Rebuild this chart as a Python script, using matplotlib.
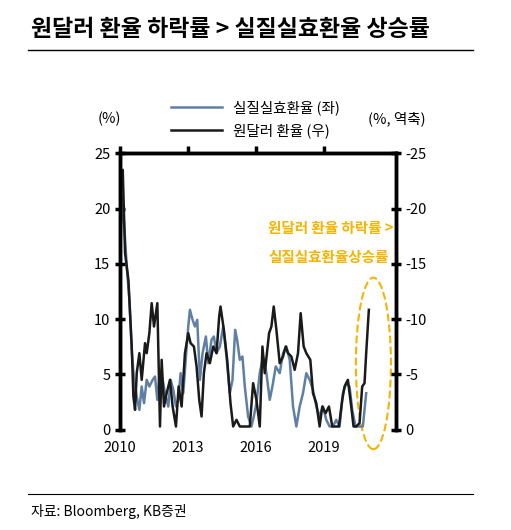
import matplotlib
matplotlib.use("Agg")
import matplotlib.pyplot as plt
from matplotlib.patches import Ellipse
import numpy as np
plt.rcParams['font.family'] = ['Noto Sans CJK KR', 'DejaVu Sans']

bx = [60,68,75,85,95,100,105,110,118,125,135,140,148,155,162,172,180,185,192,200,210,218,228,236,245,255,265,272,282,290,298,305,312,320,330,340,350,358,362,372,382,392,400,410,420,430,440,450,460,470,480,488,495,508,515,522,530,540,550,558,565,575,585,595,603,612,620,632,640,650,660,668,678,688,698,708,718,728,735,745,755,762,770,780,788,795,800,808]
by = [130,90,340,420,620,770,810,700,640,720,610,640,580,490,560,490,860,660,800,760,720,800,860,740,800,640,580,610,620,680,780,830,700,640,670,620,640,530,500,570,660,790,860,840,860,860,860,860,730,780,860,620,700,580,560,500,570,670,650,620,640,650,690,640,520,620,640,660,760,790,860,800,820,800,860,860,860,780,740,720,800,860,860,850,740,730,640,510]
ux = [60,66,72,80,88,95,102,110,118,125,132,140,148,158,165,172,180,188,195,205,212,220,228,235,242,250,258,265,270,278,285,292,300,308,318,325,335,342,350,360,370,380,390,398,406,412,420,428,435,445,455,462,470,480,490,500,510,518,528,540,550,560,570,580,590,600,610,620,630,640,650,660,670,680,690,700,710,720,730,740,750,758,768,780,790,800]
uy = [360,170,250,380,480,630,720,770,810,740,790,720,740,720,710,780,690,720,760,800,720,750,800,780,700,760,650,560,510,540,560,540,720,640,590,670,600,590,640,620,560,650,760,720,570,600,660,650,740,830,860,830,790,700,650,700,780,740,680,700,640,620,660,800,860,800,760,700,720,750,800,830,800,840,860,860,840,860,760,730,740,810,860,860,860,760]

def yr(z): return 2010 + (np.array(z)/3 - 20)/22.67
def val(z): return (870 - np.array(z))/33.2

krw_date, krw_val = yr(bx), -val(by)
reer_date, reer_val = yr(ux), val(uy)

fig = plt.figure(figsize=(5.11, 5.30), dpi=100)
fig.text(0.06, 0.945, "원달러 환율 하락률 > 실질실효환율 상승률", fontsize=16.5, fontweight='bold', va='center')
fig.add_artist(plt.Line2D([0.055, 0.925], [0.905, 0.905], color='black', lw=1))
fig.add_artist(plt.Line2D([0.055, 0.925], [0.068, 0.068], color='black', lw=0.8))
fig.text(0.06, 0.035, "자료: Bloomberg, KB증권", fontsize=10, va='center')

ax = fig.add_axes([0.235, 0.189, 0.54, 0.522])
ax.plot(reer_date, reer_val, color='#5f7fa3', lw=1.8, label='실질실효환율 (좌)')
ax.set_ylim(0, 25)
ax.set_xlim(2010, 2022.2)
ax.set_xticks([2010, 2013, 2016, 2019])
ax.set_yticks([0, 5, 10, 15, 20, 25])
ax2 = ax.twinx()
ax2.plot(krw_date, krw_val, color='#1a1a1a', lw=1.8, label='원달러 환율 (우)')
ax2.set_ylim(0, -25)
ax2.set_yticks([0, -5, -10, -15, -20, -25])
ax2.set_yticklabels(['0', '-5', '-10', '-15', '-20', '-25'])
for a in (ax, ax2):
    for s in a.spines.values():
        s.set_linewidth(2.5)
    a.spines['bottom'].set_visible(False)
    a.tick_params(width=2.5, length=7, direction='inout', labelsize=10.5)
ax.tick_params(axis='x', top=True, bottom=False, direction='out', length=5, pad=3)
ax.text(-0.08, 1.11, "(%)", transform=ax.transAxes, fontsize=10.5)
ax.text(0.9, 1.11, "(%, 역축)", transform=ax.transAxes, fontsize=10.5)
h1, l1 = ax.get_legend_handles_labels(); h2, l2 = ax2.get_legend_handles_labels()
fig.legend(h1 + h2, l1 + l2, loc='center', bbox_to_anchor=(0.5, 0.775), frameon=False, fontsize=10.5, handlelength=3.5, labelspacing=0.6)
ax.text(2019.3, 17.8, "원달러 환율 하락률 >", color='#f5b400', fontsize=10.5, fontweight='bold', ha='center')
ax.text(2019.2, 15.2, "실질실효환율상승률", color='#f5b400', fontsize=10.5, fontweight='bold', ha='center')
ax.add_patch(Ellipse((2021.2, 6.0), 1.55, 15.5, fill=False, ls='--', lw=1.5, color='#f5b400', clip_on=False))
fig.savefig("out.png", dpi=100)
